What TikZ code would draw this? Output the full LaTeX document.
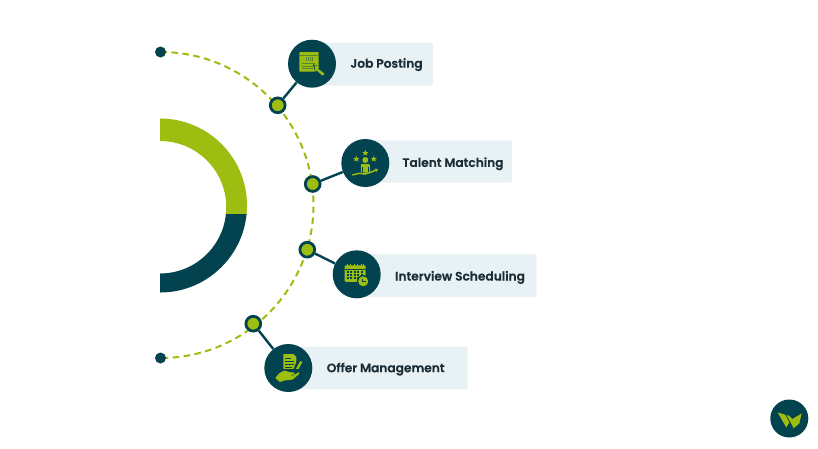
\documentclass[tikz,border=0pt]{standalone}
\usepackage{fontspec}
\setmainfont{Poppins SemiBold}[FakeBold=0.4]
\definecolor{navy}{HTML}{03424F}
\definecolor{leaf}{HTML}{9DBD11}
\definecolor{pale}{HTML}{E8F1F4}
\definecolor{ink}{HTML}{1B2D36}
\tikzset{
  hub/.style={circle,fill=navy,minimum size=48pt,inner sep=0pt},
  dotnode/.style={circle,draw=navy,line width=2.8pt,fill=leaf,minimum size=14.8pt,inner sep=0pt},
  endnode/.style={circle,fill=navy,minimum size=11pt,inner sep=0pt},
  tag/.style={rounded corners=1.5pt,fill=pale},
  caption/.style={font=\fontsize{12.2pt}{14pt}\selectfont,text=ink,inner sep=0pt,anchor=base},
  link/.style={draw=navy,line width=2.4pt},
  cut/.style={navy,line width=.6pt}
}
\begin{document}
\begin{tikzpicture}[x=1pt,y=-1pt]
\useasboundingbox (0,0) rectangle (818,448);
% half ring
\begin{scope}
  \clip (150,100) rectangle (260,214);
  \fill[leaf] (160,118.5) arc[start angle=90,end angle=-90,radius=87pt] -- (160,273.5) arc[start angle=-90,end angle=90,radius=66.25pt] -- cycle;
\end{scope}
\begin{scope}
  \clip (150,214) rectangle (260,300);
  \fill[navy] (160,118.5) arc[start angle=90,end angle=-90,radius=87pt] -- (160,273.5) arc[start angle=-90,end angle=90,radius=66.25pt] -- cycle;
\end{scope}
% tags
\fill[tag] (312,42.7) rectangle (433,85.7);
\fill[tag] (365,140.3) rectangle (512,182.7);
\fill[tag] (357,254) rectangle (536.7,297);
\fill[tag] (288,346.7) rectangle (467.7,389.3);
% dashed arc
\coordinate (start) at (160.5,52);
\draw[leaf,line width=2pt,dash pattern=on 6.5pt off 4.5pt] (start) arc[start angle=90,end angle=-90,radius=153pt];
% end points
\node[endnode] (top) at (160.5,52) {};
\node[endnode] (bot) at (160.5,358) {};
% nodes
\node[hub] (h1) at (312,63.7) {};
\node[hub] (h2) at (365.3,163) {};
\node[hub] (h3) at (356.7,274.3) {};
\node[hub] (h4) at (288.3,368) {};
\node[dotnode] (d1) at (277.7,105.3) {};
\node[dotnode] (d2) at (312.7,184) {};
\node[dotnode] (d3) at (307.3,249.7) {};
\node[dotnode] (d4) at (253.3,323.7) {};
\draw[link] (d1) -- (h1);
\draw[link] (d2) -- (h2);
\draw[link] (d3) -- (h3);
\draw[link] (d4) -- (h4);
% captions
\node[caption] (c1) at (386.5,67.7) {Job Posting};
\node[caption] (c2) at (453,166.9) {Talent Matching};
\node[caption] (c3) at (460,280.5) {Interview Scheduling};
\node[caption] (c4) at (385.7,372.2) {Offer Management};
% icon 1
\begin{scope}[shift={(312,63.7)}]
  \fill[leaf,rounded corners=.8pt] (-12.7,-11.7) rectangle (6.7,8);
  \draw[cut,navy!45!leaf] (-12.7,-8.5) -- (6.7,-8.5);
  \draw[cut,navy!45!leaf,line width=.5pt] (-6,-6.5) -- (-6,-2.5) (-4,-6.5) -- (-4,-2.5) (-2,-6.5) -- (-2,-2.5) (0,-6.5) -- (0,-2.5);
  \draw[cut,navy!45!leaf] (-10,0) -- (3,0) (-10,2.5) -- (3,2.5) (-10,5) -- (1,5);
  \fill[navy] (1,0.5) -- (8,3) -- (14,10) -- (10.5,13.5) -- (3,8) -- cycle;
  \fill[leaf] (2.5,1.5) -- (7.5,3.2) -- (5.8,4.8) -- (12.5,10) -- (10.5,12) -- (4.3,6.5) -- (3.2,8) -- cycle;
\end{scope}
% icon 2
\begin{scope}[shift={(365.3,163)},leaf]
  \foreach \sx/\sy in {0/-10,-9/-4,8.5/-4}{
    \fill (\sx,\sy-3.2) -- (\sx+.9,\sy-1) -- (\sx+3.1,\sy-1) -- (\sx+1.4,\sy+.4) -- (\sx+2,\sy+2.6) -- (\sx,\sy+1.3) -- (\sx-2,\sy+2.6) -- (\sx-1.4,\sy+.4) -- (\sx-3.1,\sy-1) -- (\sx-.9,\sy-1) -- cycle;}
  \fill (0,-3) circle[radius=3pt];
  \fill[rounded corners=1pt] (-4.5,1) rectangle (4.5,9.5);
  \draw[navy,line width=.6pt] (-3,4) -- (-3,10) (3,4) -- (3,10);
  \draw[leaf,line width=1.5pt] (-13,12) -- (-6,10.3) -- (0,11) -- (6,9) -- (11.5,6.8);
  \fill (12.8,6.2) -- (9.5,5.5) -- (11,9) -- cycle;
\end{scope}
% icon 3
\begin{scope}[shift={(356.7,274.3)}]
  \fill[leaf,rounded corners=1pt] (-12,-9) rectangle (9,7.5);
  \foreach \x in {-9.5,-6,-2.5,1,4.5,7}{\fill[leaf] (\x-.6,-10.8) rectangle (\x+.6,-8);}
  \draw[cut] (-12,-5) -- (9,-5);
  \foreach \x in {-9,-5.5,-2,1.5,5}{\foreach \y in {-2.5,.5,3.5}{\fill[navy] (\x-.8,\y-.7) rectangle (\x+.8,\y+.7);}}
  \fill[navy] (6.5,7) circle[radius=6.3pt];
  \fill[leaf] (6.5,7) circle[radius=5pt];
  \draw[navy,line width=.7pt] (6,4.2) -- (6,7.3) -- (8.8,7.3);
\end{scope}
% icon 4
\begin{scope}[shift={(288.3,368)}]
  \fill[leaf] (-5,-14) -- (5,-14) -- (8,-11) -- (8,3) -- (-5,3) -- cycle;
  \draw[cut] (-3,-9.5) -- (3,-9.5) (-3,-6.5) -- (6,-6.5) (-3,-3.5) -- (6,-3.5) (-3,-.5) -- (4,-.5);
  \fill[navy] (9,-8) -- (15,-5.5) -- (9,6) -- (4,4) -- cycle;
  \fill[leaf] (12,-7) -- (14,-5.8) -- (9,3) -- (6.5,5.5) -- (7,2) -- cycle;
  \fill[navy] (-11,1) rectangle (12,6);
  \fill[leaf] (-13,10) -- (-9.5,5.5) -- (-4,2.5) -- (1,4) -- (6,4.6) -- (6,6.5) -- (.5,7) -- (5,7.4) -- (10.5,4.2) -- (11,5.8) -- (4.5,11.5) -- (-4,12.5) -- (-8.5,14) -- cycle;
\end{scope}
% logo
\node[circle,fill=navy,minimum size=38pt,inner sep=0pt] (logo) at (789.3,418.5) {};
\begin{scope}[shift={(789.3,418.5)}]
  \fill[leaf] (-11.7,-6) -- (0,-2.7) -- (3,0.5) -- (12.3,-5) -- (10,5) -- (4,10) -- (0.5,3) -- (-3,9) -- (-7,2) -- cycle;
  \draw[navy,line width=.7pt] (-3.5,-3.8) -- (4,10);
\end{scope}
\end{tikzpicture}
\end{document}
